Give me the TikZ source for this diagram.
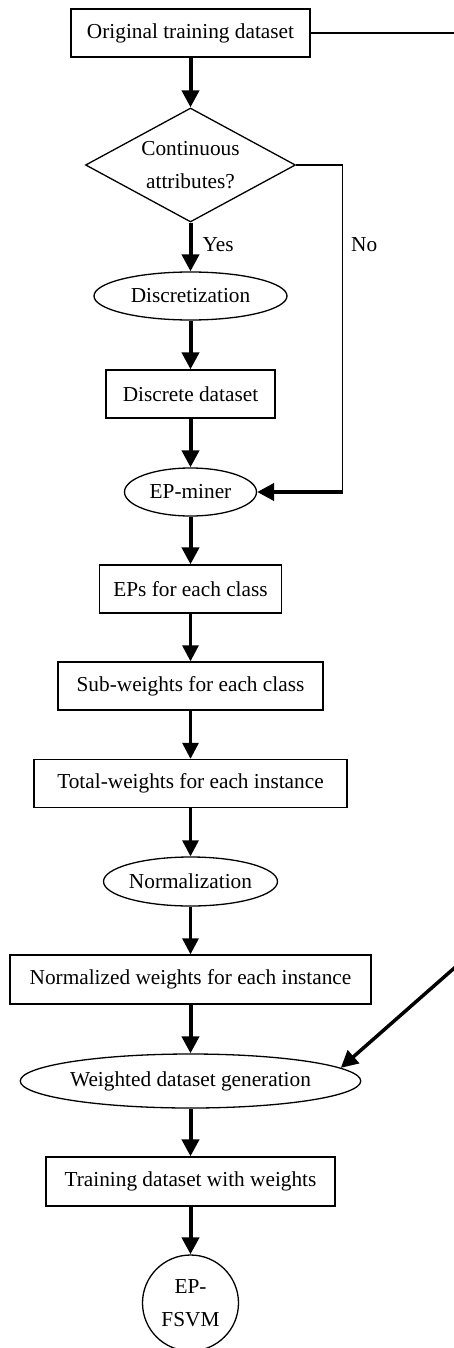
\documentclass[tikz,border=0pt]{standalone}
\usepackage{fontspec}
\setmainfont{Liberation Serif}
\usetikzlibrary{shapes.geometric,arrows.meta}
\begin{document}
\begin{tikzpicture}[x=1pt,y=-1pt,
  every node/.style={font=\fontsize{21.3}{33}\selectfont},
  box/.style={draw,line width=1.3pt,rectangle,minimum height=48pt,inner sep=0pt},
  ell/.style={draw,line width=1.3pt,ellipse,inner sep=0pt,minimum height=48pt},
  diam/.style={draw,line width=1.3pt,diamond,inner sep=0pt},
  circ/.style={draw,line width=1.3pt,circle,inner sep=0pt,minimum size=96pt,align=center},
  bigarrow/.style={line width=4pt,-{Triangle[length=17pt,width=17pt]}},
  midarrow/.style={line width=3pt,-{Triangle[length=16pt,width=16pt]}},
  thinline/.style={line width=1.3pt},
]
\useasboundingbox (0,0) rectangle (454,1348);

% nodes
\node[box,minimum width=239pt] (orig) at (190.5,33) {Original training dataset};
\node[diam,minimum width=210pt,minimum height=114pt] (dia) at (190.5,165) {};
\node[align=center,inner sep=0pt] (diatext) at (190.5,165) {Continuous\\attributes?};
\node[ell,minimum width=193pt] (disc) at (190.5,296) {Discretization};
\node[box,minimum width=169pt] (dds) at (190.5,394) {Discrete dataset};
\node[ell,minimum width=132pt] (epm) at (190.5,492) {EP-miner};
\node[box,minimum width=182pt] (eps) at (190.5,589) {EPs for each class};
\node[box,minimum width=265pt] (sub) at (190.5,686) {Sub-weights for each class};
\node[box,minimum width=313pt] (tot) at (190.5,783.5) {Total-weights for each instance};
\node[ell,minimum width=170pt,minimum height=49pt] (norm) at (190.5,881.5) {Normalization};
\node[box,minimum width=361pt,minimum height=49pt] (nw) at (190.5,979.5) {Normalized weights for each instance};
\node[ell,minimum width=337pt,minimum height=54pt] (wdg) at (190.5,1081) {Weighted dataset generation};
\node[box,minimum width=289pt,minimum height=49pt] (tdw) at (190.5,1181.5) {Training dataset with weights};
\node[circ] (fsvm) at (190.5,1303) {EP-\\FSVM};

\coordinate (topR) at (460,33);
\coordinate (noC) at (342.7,492);
\coordinate (diagS) at (460,963);

% connectors
\draw[bigarrow] (orig.south) -- (dia.north);
\draw[bigarrow] (dia.south) -- (disc.north);
\node[anchor=west,inner sep=0pt] (yes) at (202.5,245) {Yes};
\draw[thinline] (dia.east) -| (noC);
\node[anchor=west,inner sep=0pt] (no) at (351,245) {No};
\draw[bigarrow] (noC) -- (epm.east);
\draw[bigarrow] (disc.south) -- (dds.north);
\draw[bigarrow] (dds.south) -- (epm.north);
\draw[bigarrow] (epm.south) -- (eps.north);
\draw[midarrow] (eps.south) -- (sub.north);
\draw[midarrow] (sub.south) -- (tot.north);
\draw[midarrow] (tot.south) -- (norm.north);
\draw[midarrow] (norm.south) -- (nw.north);
\draw[bigarrow] (nw.south) -- (wdg.north);
\draw[bigarrow] (wdg.south) -- (tdw.north);
\draw[bigarrow] (tdw.south) -- (fsvm.north);
\draw[thinline] (orig.east) -- (topR);
\draw[line width=3.5pt,-{Triangle[length=17pt,width=17pt]}] (diagS) -- (wdg.5);
\end{tikzpicture}
\end{document}
